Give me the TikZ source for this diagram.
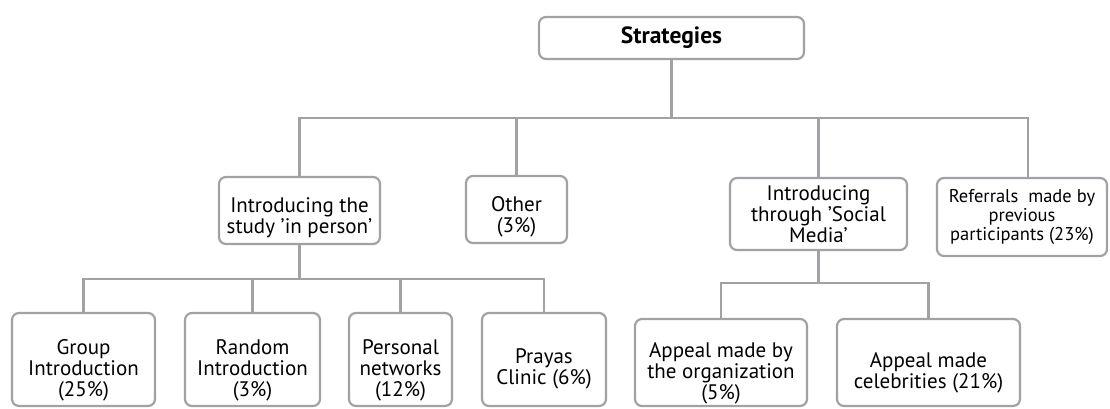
\documentclass[tikz,border=0pt]{standalone}
\usepackage{fontspec}
\setmainfont{PT Sans}
\newcommand{\sq}{\char"0027\relax}
\newcommand{\drop}[1]{\rule{0pt}{\dimexpr 16pt+#1+#1\relax}}
\begin{document}
\begin{tikzpicture}[x=1pt,y=-1pt,
  box/.style={draw=linegray, line width=2.2pt, rounded corners=7pt, inner sep=0pt,
    align=center, font=\fontsize{21}{21}\selectfont, text=black},
  conn/.style={draw=linegray, line width=2.4pt}]
\definecolor{linegray}{RGB}{162,162,166}
\fill[white] (0,0) rectangle (1110,408);
\useasboundingbox (0,0) rectangle (1110,408);
% top
\node[box, minimum width=265pt, minimum height=42pt, font=\fontsize{23.5}{24}\selectfont\bfseries] (S) at (671.5,38) {Strategies};
% level 1
\node[box, minimum width=161pt, minimum height=67pt] (IP) at (299.5,210.5) {\drop{7pt}Introducing the\\study \sq in person\sq};
\node[box, minimum width=101pt, minimum height=67pt] (O) at (516.5,209.5) {\drop{7pt}Other\\(3\%)};
\node[box, minimum width=177pt, minimum height=72pt] (SM) at (818.5,214) {Introducing\\through \sq Social\\Media\sq};
\node[box, minimum width=170pt, minimum height=78pt, font=\fontsize{18.5}{18.7}\selectfont] (R) at (1022,217) {Referrals~ made by\\previous\\participants (23\%)};
% level 2
\node[box, minimum width=143pt, minimum height=93pt] (G) at (83.5,359.5) {\drop{10pt}Group\\Introduction\\(25\%)};
\node[box, minimum width=135pt, minimum height=93pt] (RI) at (252.5,359.5) {\drop{10pt}Random\\Introduction\\(3\%)};
\node[box, minimum width=103pt, minimum height=93pt] (PN) at (400.5,359.5) {\drop{10pt}Personal\\networks\\(12\%)};
\node[box, minimum width=124pt, minimum height=93pt] (PC) at (544,359.5) {\drop{9pt}Prayas\\Clinic (6\%)};
\node[box, minimum width=172pt, minimum height=87pt] (AO) at (721,362.5) {\drop{10pt}Appeal made by\\the organization\\(5\%)};
\node[box, minimum width=183pt, minimum height=87pt] (AC) at (928.5,362.5) {\drop{9.5pt}Appeal made\\celebrities (21\%)};
% buses
\coordinate (b1) at (0,118);
\coordinate (b2) at (0,279);
\coordinate (b3) at (0,283);
\coordinate (rtop) at (1028,178);
% connectors
\draw[conn] (S.south) -- (S.south |- b1);
\draw[conn] (IP.north) -- (IP.north |- b1) -- (rtop |- b1) -- (rtop);
\draw[conn] (O.north) -- (O.north |- b1);
\draw[conn] (SM.north) -- (SM.north |- b1);
\draw[conn] (IP.south) -- (IP.south |- b2);
\draw[conn] (G.north) -- (G.north |- b2) -- (PC.north |- b2) -- (PC.north);
\draw[conn] (RI.north) -- (RI.north |- b2);
\draw[conn] (PN.north) -- (PN.north |- b2);
\draw[conn] (SM.south) -- (SM.south |- b3);
\draw[conn] (AO.north) -- (AO.north |- b3) -- (AC.north |- b3) -- (AC.north);
\end{tikzpicture}
\end{document}
